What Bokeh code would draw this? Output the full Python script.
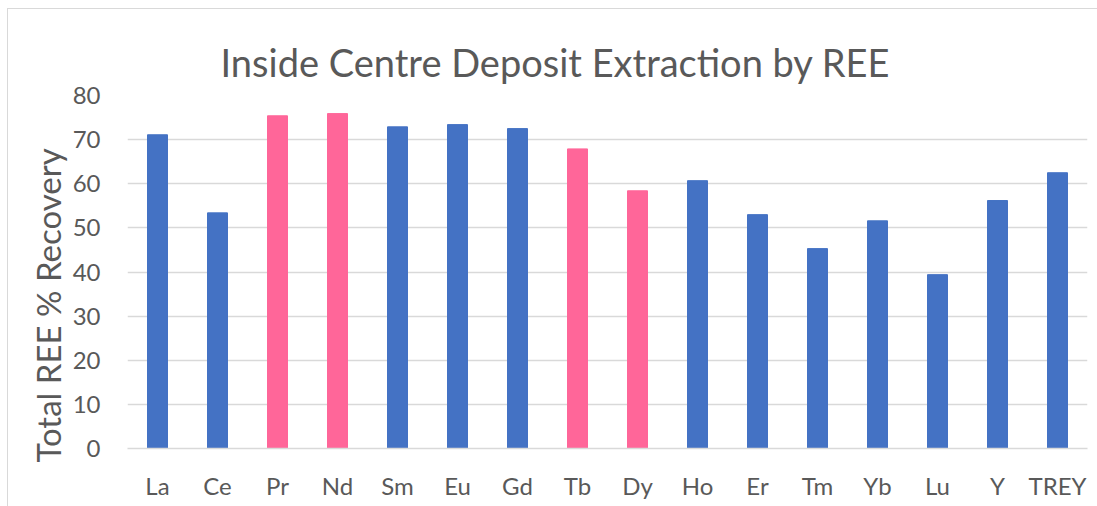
from bokeh.plotting import figure
from bokeh.models import Range1d, FactorRange, ColumnDataSource, FixedTicker, Title
from bokeh.embed import file_html
from bokeh.resources import INLINE

elements = ["La", "Ce", "Pr", "Nd", "Sm", "Eu", "Gd", "Tb", "Dy", "Ho", "Er", "Tm", "Yb", "Lu", "Y", "TREY"]
recovery = [71.1, 53.4, 75.4, 75.9, 72.9, 73.4, 72.5, 67.9, 58.4, 60.7, 53.0, 45.3, 51.6, 39.4, 56.2, 62.5]
highlighted = ["Pr", "Nd", "Tb", "Dy"]
y_ticks = [0, 10, 20, 30, 40, 50, 60, 70, 80]

BLUE = "#4472C4"
PINK = "#FF6699"
TEXT = "#595959"
GRID = "#D9D9D9"

colors = [PINK if e in highlighted else BLUE for e in elements]
src = ColumnDataSource(dict(x=elements, top=recovery, color=colors))

p = figure(
    x_range=FactorRange(*elements),
    y_range=Range1d(0, 80),
    width=1097, height=506,
    output_backend="svg", toolbar_location=None,
    min_border_left=127, min_border_right=10,
    min_border_top=95, min_border_bottom=58,
)
p.title.visible = False
p.styles = {
    "background": "linear-gradient(#D9D9D9,#D9D9D9) 7px 8px / 1px 100% no-repeat, "
                  "linear-gradient(#D9D9D9,#D9D9D9) 7px 8px / 100% 1px no-repeat, white",
}
p.outline_line_color = None
p.background_fill_color = "white"
p.border_fill_color = None

p.vbar(x="x", top="top", width=0.333, color="color", source=src)

p.xgrid.grid_line_color = None
p.ygrid.grid_line_color = GRID
p.ygrid.grid_line_width = 1.5

p.yaxis.ticker = FixedTicker(ticks=y_ticks)
p.yaxis.axis_line_color = None
p.yaxis.major_tick_line_color = None
p.yaxis.minor_tick_line_color = None
p.yaxis.major_label_text_font = "Lato"
p.yaxis.major_label_text_font_size = "24px"
p.yaxis.major_label_text_color = TEXT
p.yaxis.major_label_standoff = 21

p.xaxis.axis_line_color = GRID
p.xaxis.axis_line_width = 1.5
p.xaxis.major_tick_line_color = None
p.xaxis.minor_tick_line_color = None
p.xaxis.major_label_text_font = "Lato"
p.xaxis.major_label_text_font_size = "24px"
p.xaxis.major_label_text_color = TEXT
p.xaxis.major_label_standoff = 16

ytitle = Title(
    text="Total REE % Recovery", align="left", offset=-14, standoff=4,
    text_font="Lato", text_font_size="33px", text_font_style="normal",
    text_color=TEXT,
)
p.add_layout(ytitle, "left")

main_title = Title(
    text="Inside Centre Deposit Extraction by REE", align="left", offset=93,
    standoff=21, text_font="Lato", text_font_size="38px",
    text_font_style="normal", text_color=TEXT,
)
p.add_layout(main_title, "above")

open("out.html", "w").write(file_html(p, INLINE))
